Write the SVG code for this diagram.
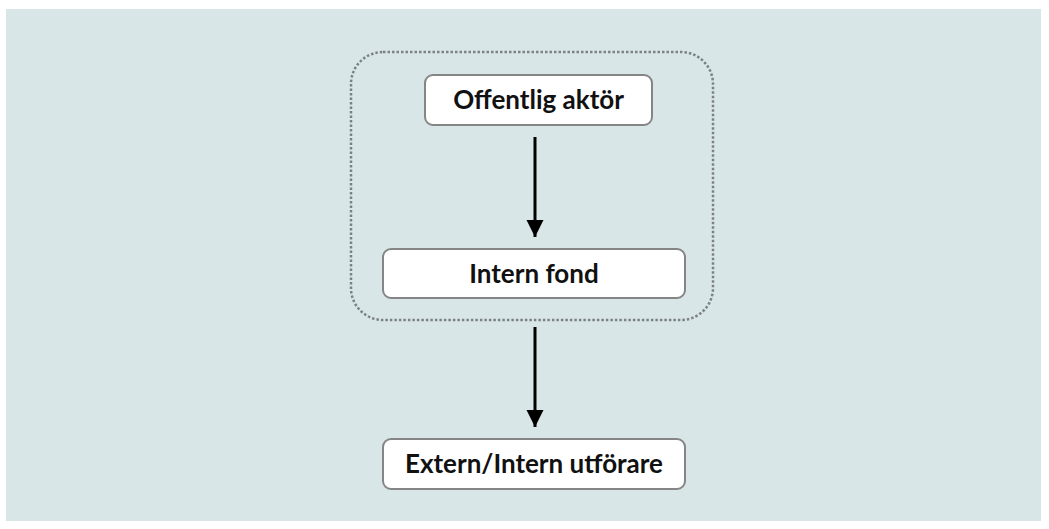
<svg xmlns="http://www.w3.org/2000/svg" width="1049" height="529" viewBox="0 0 1049 529">
  <defs>
    <style>
      .node rect { fill: #ffffff; stroke: #858585; stroke-width: 2; }
      .node text { font-family: Lato, "Open Sans", sans-serif; font-weight: bold; font-size: 26px; fill: #111111; text-anchor: middle; }
      .edge { stroke: #000000; stroke-width: 3; fill: none; }
      .group { fill: none; stroke: #7c8283; stroke-width: 2.5; stroke-dasharray: 2.5 2; }
    </style>
    <marker id="arrow" viewBox="0 0 10 10" refX="10" refY="5" markerUnits="userSpaceOnUse" markerWidth="17" markerHeight="19" orient="auto-start-reverse">
      <path d="M0,0 L10,5 L0,10 Z" fill="#000000"/>
    </marker>
  </defs>

  <!-- panel background -->
  <rect x="6" y="9" width="1035" height="512" fill="#d9e6e7"/>

  <!-- dotted grouping frame -->
  <rect class="group" x="351" y="52" width="362" height="268" rx="32" ry="32"/>

  <g id="connectors">
    <line class="edge" x1="535" y1="137" x2="535" y2="237" marker-end="url(#arrow)"/>
    <line class="edge" x1="535" y1="327" x2="535" y2="427" marker-end="url(#arrow)"/>
  </g>

  <g id="offentlig-aktor" class="node">
    <rect x="425" y="75" width="227" height="50" rx="8" ry="8"/>
    <text x="538.5" y="109">Offentlig aktör</text>
  </g>

  <g id="intern-fond" class="node">
    <rect x="383" y="249" width="302" height="49" rx="8" ry="8"/>
    <text x="534" y="283">Intern fond</text>
  </g>

  <g id="extern-intern-utforare" class="node">
    <rect x="383" y="439" width="302" height="50" rx="8" ry="8"/>
    <text x="534" y="473">Extern/Intern utförare</text>
  </g>
</svg>
